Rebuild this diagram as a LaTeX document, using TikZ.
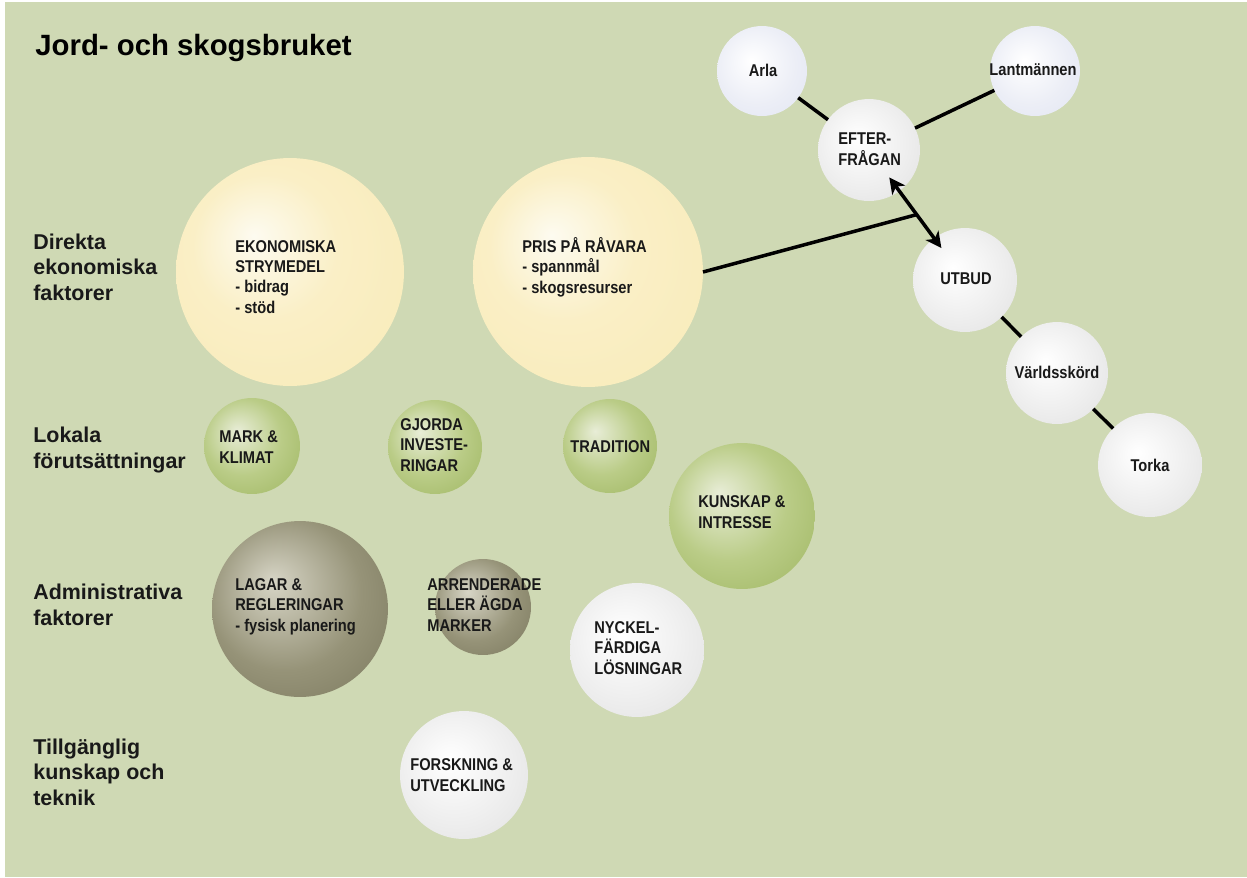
\documentclass[tikz,border=0pt]{standalone}
\usepackage{fontspec}
\setmainfont{Liberation Sans}
\newfontfamily\cfont[FakeStretch=0.86]{Liberation Sans}
\usetikzlibrary{arrows.meta}
\definecolor{bg}{RGB}{207,217,180}
\definecolor{txt}{RGB}{25,25,25}
\definecolor{yin}{RGB}{253,251,240}
\definecolor{ymid}{RGB}{250,239,198}
\definecolor{yout}{RGB}{244,224,148}
\definecolor{gin}{RGB}{232,237,215}
\definecolor{gmid}{RGB}{186,204,135}
\definecolor{gout}{RGB}{128,158,55}
\definecolor{oin}{RGB}{215,213,198}
\definecolor{omid}{RGB}{150,147,120}
\definecolor{oout}{RGB}{92,90,64}
\definecolor{win}{RGB}{255,255,255}
\definecolor{wmid}{RGB}{238,238,238}
\definecolor{wout}{RGB}{198,198,198}
\definecolor{bin}{RGB}{255,255,255}
\definecolor{bmid}{RGB}{236,238,246}
\definecolor{bout}{RGB}{204,211,236}
\pgfdeclareradialshading{yshade}{\pgfpoint{-8bp}{8bp}}{color(0bp)=(yin); color(16bp)=(ymid); color(40bp)=(ymid!70!yout); color(50bp)=(yout)}
\pgfdeclareradialshading{gshade}{\pgfpoint{-8bp}{8bp}}{color(0bp)=(gin); color(20bp)=(gmid); color(40bp)=(gmid!50!gout); color(50bp)=(gout)}
\pgfdeclareradialshading{oshade}{\pgfpoint{-8bp}{8bp}}{color(0bp)=(oin); color(22bp)=(omid); color(40bp)=(omid!50!oout); color(50bp)=(oout)}
\pgfdeclareradialshading{wshade}{\pgfpoint{-6bp}{6bp}}{color(0bp)=(win); color(22bp)=(wmid); color(42bp)=(wmid!60!wout); color(50bp)=(wout)}
\pgfdeclareradialshading{bshade}{\pgfpoint{-6bp}{6bp}}{color(0bp)=(bin); color(22bp)=(bmid); color(42bp)=(bmid!60!bout); color(50bp)=(bout)}
\begin{document}
\begin{tikzpicture}[x=0.02cm,y=-0.02cm,
  bub/.style={circle, shade, minimum size={#1*0.04cm}, inner sep=0pt, outer sep=0pt},
  ybub/.style={bub=#1, shading=yshade},
  gbub/.style={bub=#1, shading=gshade},
  obub/.style={bub=#1, shading=oshade},
  wbub/.style={bub=#1, shading=wshade},
  bbub/.style={bub=#1, shading=bshade},
  ctext/.style={font=\cfont\bfseries\fontsize{9.7}{11.5}\selectfont, align=left, anchor=base west, inner sep=0pt, text=txt},
  mtext/.style={font=\cfont\bfseries\fontsize{9.7}{11.5}\selectfont, anchor=center, inner sep=0pt, text=txt},
  rowlab/.style={font=\bfseries\fontsize{12.2}{14.5}\selectfont, align=left, anchor=base west, inner sep=0pt, text=txt},
  link/.style={line width=2pt, black},
  dlink/.style={line width=2pt, black, {Stealth[length=9pt,width=9pt,inset=2.5pt]}-{Stealth[length=9pt,width=9pt,inset=2.5pt]}}
]
\useasboundingbox (0,0) rectangle (1247,877);
\fill[white] (0,0) rectangle (1247,877);
\fill[bg] (5,2) rectangle (1247,877);

% title and row labels (base = baseline of the last line)
\node[font=\bfseries\fontsize{16.7}{20}\selectfont, anchor=base west, inner sep=0pt, text=black] (title) at (35,55) {Jord- och skogsbruket};
\node[rowlab] (r1) at (33,300) {Direkta\\ekonomiska\\faktorer};
\node[rowlab] (r2) at (33,468) {Lokala\\förutsättningar};
\node[rowlab] (r3) at (33,625) {Administrativa\\faktorer};
\node[rowlab] (r4) at (33,805) {Tillgänglig\\kunskap och\\teknik};

% circles
\node[bbub=45] (arla) at (762,71) {};
\node[bbub=45] (lant) at (1035,71) {};
\node[wbub=51] (efter) at (869,150) {};
\node[wbub=52] (utbud) at (965,280) {};
\node[wbub=51] (vark) at (1057,373) {};
\node[wbub=52] (torka) at (1150,465) {};
\node[ybub=114] (ekon) at (290,272) {};
\node[ybub=115] (pris) at (588,272) {};
\node[gbub=48] (mark) at (252,446) {};
\node[gbub=47] (gjorda) at (435,447) {};
\node[gbub=47] (trad) at (610,446) {};
\node[gbub=73] (kunskap) at (742,516) {};
\node[obub=88] (lagar) at (300,609) {};
\node[obub=48] (arrend) at (483,607) {};
\node[wbub=67] (nyckel) at (637,650) {};
\node[wbub=64] (forsk) at (464,775) {};

% connectors
\draw[link] (arla) -- (efter);
\draw[link] (efter) -- (lant);
\draw[link] (utbud) -- (vark);
\draw[link] (vark) -- (torka);
\draw[dlink, shorten <=-9.6pt, shorten >=-7pt] (efter) -- coordinate[midway] (mid) (utbud);
\draw[link] (pris.east) -- (mid);

% texts (base = baseline of the last line)
\node[ctext] (tekon) at (235,313) {EKONOMISKA\\STRYMEDEL\\- bidrag\\- stöd};
\node[ctext] (tpris) at (522,293) {PRIS PÅ RÅVARA\\- spannmål\\- skogsresurser};
\node[ctext] (tmark) at (219,463) {MARK \&\\KLIMAT};
\node[ctext] (tgjorda) at (400,471) {GJORDA\\INVESTE-\\RINGAR};
\node[ctext] (ttrad) at (570,452) {TRADITION};
\node[ctext] (tkunskap) at (698,528) {KUNSKAP \&\\INTRESSE};
\node[ctext] (tlagar) at (235,631) {LAGAR \&\\REGLERINGAR\\- fysisk planering};
\node[ctext] (tarrend) at (427,631) {ARRENDERADE\\ELLER ÄGDA\\MARKER};
\node[ctext] (tnyckel) at (594,674) {NYCKEL-\\FÄRDIGA\\LÖSNINGAR};
\node[ctext] (tforsk) at (410,791) {FORSKNING \&\\UTVECKLING};
\node[ctext] (tefter) at (838,165) {EFTER-\\FRÅGAN};
\node[mtext] (tarla) at (763,70) {Arla};
\node[mtext] (tlant) at (1033,70) {Lantmännen};
\node[mtext] (tutbud) at (966,279) {UTBUD};
\node[mtext] (tvark) at (1057,372) {Världsskörd};
\node[mtext] (ttorka) at (1150,465) {Torka};
\end{tikzpicture}
\end{document}
